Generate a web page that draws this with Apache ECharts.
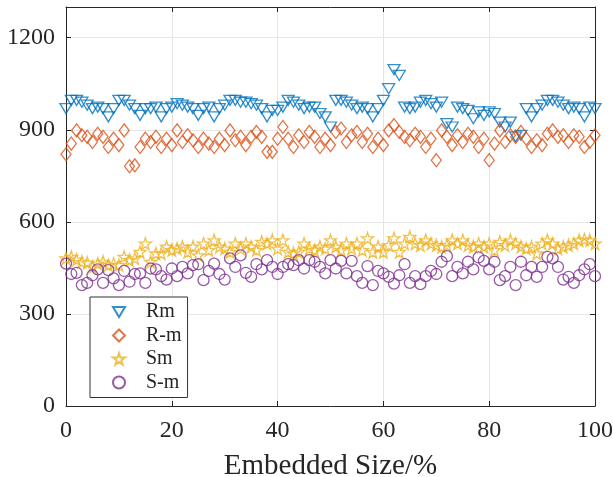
<!DOCTYPE html>
<html>
<head>
<meta charset="utf-8">
<script src="https://cdn.jsdelivr.net/npm/echarts@6/dist/echarts.min.js"></script>
<style>
  html, body { margin: 0; padding: 0; background: #fff; }
  #chart { width: 613px; height: 477px; }
</style>
</head>
<body>
<div id="chart"></div>
<script>
// embedded size (%) for each sample
const sizes = [0, 1, 2, 3, 4, 5, 6, 7, 8, 9, 10, 11, 12, 13, 14, 15, 16, 17, 18, 19,
  20, 21, 22, 23, 24, 25, 26, 27, 28, 29, 30, 31, 32, 33, 34, 35, 36, 37, 38, 39,
  40, 41, 42, 43, 44, 45, 46, 47, 48, 49, 50, 51, 52, 53, 54, 55, 56, 57, 58, 59,
  60, 61, 62, 63, 64, 65, 66, 67, 68, 69, 70, 71, 72, 73, 74, 75, 76, 77, 78, 79,
  80, 81, 82, 83, 84, 85, 86, 87, 88, 89, 90, 91, 92, 93, 94, 95, 96, 97, 98, 99, 100]

const rm = [969, 996, 996, 990, 980, 969, 974, 969, 942, 969, 996, 996, 980, 969, 947, 969, 969, 974, 942, 969,
  974, 985, 980, 974, 969, 947, 969, 974, 942, 969, 980, 996, 996, 990, 990, 985, 980, 969, 942, 963,
  963, 974, 996, 990, 980, 969, 974, 974, 953, 942, 909, 996, 996, 990, 980, 969, 974, 969, 942, 969,
  996, 1034, 1096, 1077, 974, 969, 974, 990, 996, 985, 974, 990, 920, 909, 974, 969, 963, 936, 958, 947,
  958, 953, 925, 909, 925, 877, 882, 969, 942, 969, 980, 996, 996, 990, 980, 969, 974, 969, 942, 974, 969]

const rNeg = [820, 855, 898, 882, 877, 860, 887, 877, 844, 871, 850, 898, 781, 784, 844, 871, 860, 877, 844, 871,
  850, 898, 860, 882, 866, 844, 871, 855, 844, 871, 850, 898, 866, 877, 850, 877, 893, 877, 828, 828,
  871, 909, 871, 844, 882, 860, 893, 877, 844, 871, 850, 893, 904, 860, 882, 893, 860, 887, 844, 871,
  850, 898, 915, 893, 877, 866, 887, 877, 844, 871, 801, 898, 877, 850, 882, 860, 887, 877, 844, 871,
  801, 855, 898, 860, 882, 877, 893, 871, 844, 866, 850, 887, 898, 877, 882, 860, 882, 877, 844, 860, 882]

const sm = [481, 486, 477, 470, 467, 453, 464, 470, 459, 464, 459, 486, 475, 481, 502, 529, 470, 497, 497, 519,
  508, 513, 519, 502, 519, 491, 529, 508, 540, 519, 513, 502, 529, 513, 529, 519, 508, 535, 529, 540,
  513, 540, 502, 497, 502, 529, 513, 508, 519, 513, 540, 519, 508, 529, 513, 529, 508, 546, 502, 519,
  502, 524, 546, 502, 529, 551, 529, 524, 540, 529, 524, 519, 524, 540, 529, 540, 524, 519, 529, 519,
  529, 508, 535, 524, 540, 529, 519, 513, 519, 497, 529, 540, 529, 513, 519, 524, 529, 540, 543, 540, 529]

const sNeg = [464, 430, 434, 394, 401, 426, 445, 401, 443, 416, 394, 440, 405, 430, 432, 401, 448, 445, 423, 412,
  448, 423, 453, 432, 459, 462, 410, 440, 464, 430, 412, 481, 453, 491, 434, 421, 462, 445, 475, 453,
  430, 453, 462, 459, 475, 448, 475, 470, 453, 432, 475, 448, 473, 432, 473, 423, 401, 456, 394, 440,
  432, 421, 399, 426, 462, 401, 423, 397, 423, 440, 430, 470, 488, 423, 453, 432, 470, 445, 484, 473,
  445, 470, 410, 423, 453, 394, 470, 426, 453, 421, 453, 486, 481, 453, 412, 421, 401, 426, 445, 462, 423]

const seriesNames = ['Rm', 'R-m', 'Sm', 'S-m']
const xTicks = { min: 0, max: 100, interval: 20 }
const yTicks = { min: 0, max: 1300, interval: 300 }

const font = 'Liberation Serif'
const ink = '#262626'
const star = 'path://M50,2 L61,36 L97,36 L68,57 L79,92 L50,71 L21,92 L32,57 L3,36 L39,36 Z'
const downTri = 'path://M0,0 L12,0 L6,10 Z'

function pairs(vals) {
  return sizes.map((s, i) => [s, vals[i]])
}

function scatter(name, vals, color, symbol, size) {
  return {
    name: name,
    type: 'scatter',
    data: pairs(vals),
    symbol: symbol,
    symbolSize: size,
    itemStyle: { color: 'rgba(255,255,255,0)', borderColor: color, borderWidth: 1.3 },
    emphasis: { disabled: true },
    animation: false
  }
}

const axisCommon = {
  axisLine: { show: true, onZero: false, lineStyle: { color: ink, width: 1 } },
  axisTick: { show: true, inside: true, length: 5, lineStyle: { color: ink } },
  splitLine: { show: false }
}

const chart = echarts.init(document.getElementById('chart'))
chart.setOption({
  backgroundColor: '#fff',
  grid: { left: 66, right: 18, top: 7, bottom: 71, outerBoundsMode: 'none', containLabel: false },
  legend: {
    orient: 'vertical',
    left: 90,
    top: 297,
    data: [
      { name: 'Rm', icon: downTri },
      { name: 'R-m', icon: 'diamond' },
      { name: 'Sm', icon: star },
      { name: 'S-m', icon: 'circle' }
    ],
    itemWidth: 12,
    itemHeight: 12,
    itemGap: 3.5,
    padding: [5, 6, 5, 22],
    backgroundColor: '#fff',
    borderColor: '#333',
    borderWidth: 1,
    borderRadius: 0,
    textStyle: { fontFamily: font, fontSize: 20, lineHeight: 20, color: ink, padding: [0, 0, 0, 16] }
  },
  xAxis: [
    {
      type: 'value',
      min: xTicks.min,
      max: xTicks.max,
      interval: xTicks.interval,
      name: 'Embedded Size/%',
      nameLocation: 'middle',
      nameGap: 46,
      nameTextStyle: { fontFamily: font, fontSize: 29, color: ink },
      axisLabel: { fontFamily: font, fontSize: 24, color: ink, margin: 13 },
      axisLine: axisCommon.axisLine,
      axisTick: axisCommon.axisTick,
      splitLine: { show: true, lineStyle: { color: '#e6e6e6', width: 1 } }
    },
    Object.assign({ type: 'value', position: 'top', min: xTicks.min, max: xTicks.max, interval: xTicks.interval,
      axisLabel: { show: false } }, axisCommon)
  ],
  yAxis: [
    {
      type: 'value',
      min: yTicks.min,
      max: yTicks.max,
      interval: yTicks.interval,
      axisLabel: { fontFamily: font, fontSize: 24, color: ink, margin: 11, showMaxLabel: false,
        formatter: function(v) { return String(v) } },
      axisLine: axisCommon.axisLine,
      axisTick: axisCommon.axisTick,
      splitLine: { show: true, lineStyle: { color: '#e6e6e6', width: 1 } }
    },
    Object.assign({ type: 'value', position: 'right', min: yTicks.min, max: yTicks.max, interval: yTicks.interval,
      axisLabel: { show: false } }, axisCommon)
  ],
  series: [
    scatter(seriesNames[0], rm, '#0072BD', downTri, [12, 10]),
    scatter(seriesNames[1], rNeg, '#D95319', 'diamond', [10, 13]),
    scatter(seriesNames[2], sm, '#EDB120', star, 12),
    scatter(seriesNames[3], sNeg, '#7E2F8E', 'circle', 11)
  ]
})
</script>
</body>
</html>
